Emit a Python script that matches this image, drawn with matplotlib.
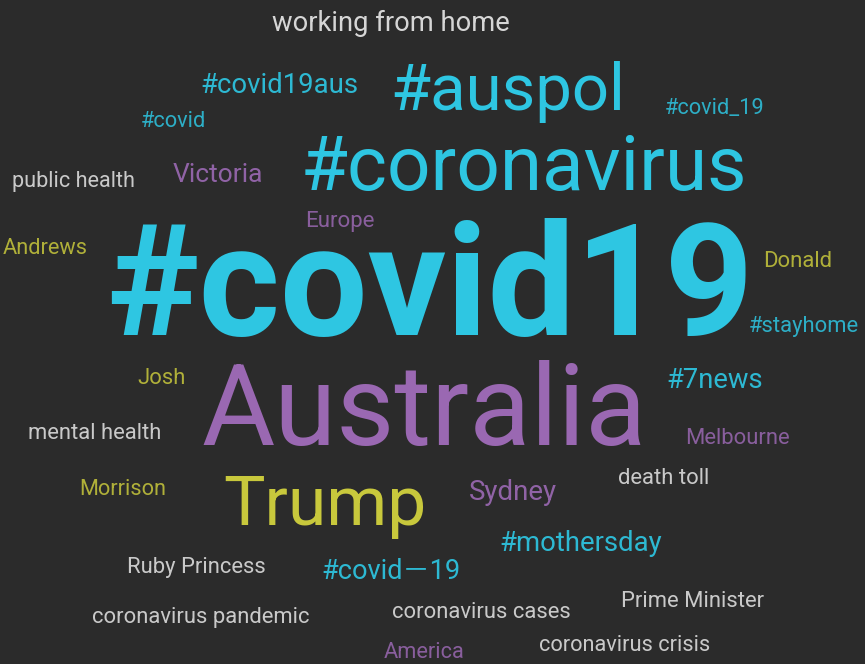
"""
Word cloud of Australian COVID-19 tweets.
"""

import matplotlib
matplotlib.use('Agg')
import matplotlib.pyplot as plt

# Words and their weights (font size, pt)
words = [
    "working from home", "#covid19aus", "#auspol", "#covid_19", "#covid",
    "#coronavirus", "public health", "Victoria", "Europe", "Andrews",
    "#covid19", "Donald", "#stayhome", "Josh", "Australia",
    "#7news", "mental health", "Melbourne", "Morrison", "Trump",
    "Sydney", "death toll", "#mothersday", "Ruby Princess", "#covid－19",
    "Prime Minister", "coronavirus pandemic", "coronavirus cases",
    "coronavirus crisis", "America",
]
weights = [
    19.7, 19.8, 47, 15.7, 15.7,
    55, 15.6, 19, 16, 15.7,
    112, 15.9, 15.8, 15.8, 81,
    19.7, 15.8, 15.8, 15.7, 50,
    19.9, 15.8, 19.8, 15.8, 19.5,
    15.8, 15.8, 15.8, 15.7, 15.7,
]
# word group: tag, place, person, phrase
kinds = [
    "phrase", "tag", "tag", "tag", "tag",
    "tag", "phrase", "place", "place", "person",
    "tag", "person", "tag", "person", "place",
    "tag", "phrase", "place", "person", "person",
    "place", "phrase", "tag", "phrase", "tag",
    "phrase", "phrase", "phrase", "phrase", "place",
]

# Layout (pixel centre x, baseline y)
pos_x = [391, 279, 508, 715, 173, 524, 73, 218, 340, 45,
         430, 798, 804, 162, 424, 715, 95, 737, 123, 325,
         513, 664, 581, 196, 391, 693, 201, 481, 625, 424]
pos_y = [31, 93, 110, 114, 127, 190, 187, 182, 227, 254,
         335, 267, 332, 384, 445, 388, 439, 444, 495, 525,
         500, 484, 551, 573, 579, 607, 623, 618, 651, 658]

colors = {
    "tag": "#2ec6e2",
    "place": "#9a68b2",
    "person": "#c8c83c",
    "phrase": "#e6e6e6",
}
bg = "#2b2b2b"

W, H = 865, 664
fig = plt.figure(figsize=(W / 100, H / 100), dpi=100, facecolor=bg)
ax = fig.add_axes([0, 0, 1, 1])
ax.set_facecolor(bg)
ax.set_xlim(0, W)
ax.set_ylim(H, 0)
ax.axis('off')

for word, w, kind, x, y in zip(words, weights, kinds, pos_x, pos_y):
    # smaller words are drawn a little fainter
    alpha = 1.0 if w > 30 else (0.92 if w > 18 else 0.85)
    ax.text(
        x, y, word,
        fontsize=w,
        color=colors[kind],
        alpha=alpha,
        ha='center', va='baseline',
        fontweight='bold' if w > 100 else 'normal',
        family=['Roboto', 'Noto Sans CJK SC', 'DejaVu Sans'],
    )

fig.savefig('out.png', dpi=100, facecolor=bg)
plt.close(fig)
